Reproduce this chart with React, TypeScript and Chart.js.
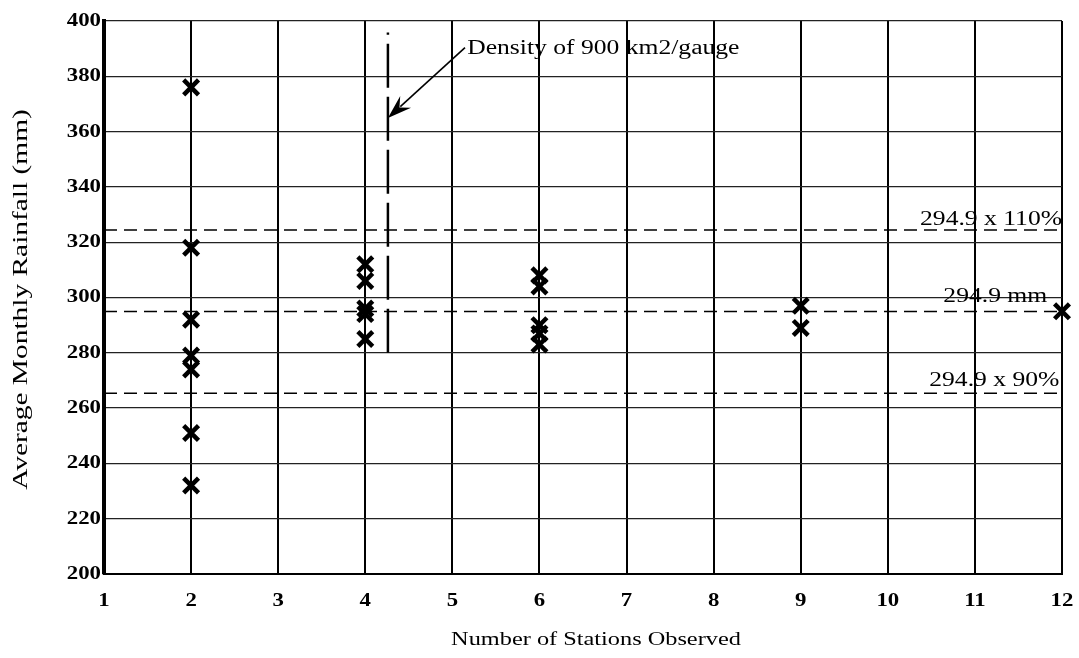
import React, { useEffect, useRef } from 'react';
import { Chart, registerables } from 'chart.js';

Chart.register(...registerables);

// ---- Data ----
const xTickLabels = ['1', '2', '3', '4', '5', '6', '7', '8', '9', '10', '11', '12'];
const yTickLabels = ['200', '220', '240', '260', '280', '300', '320', '340', '360', '380', '400'];

const stationsA = 2;
const rainfallA = [376, 318, 292, 279, 274, 251, 232];
const stationsB = 4;
const rainfallB = [312, 306, 296, 294, 285];
const stationsC = 6;
const rainfallC = [308, 304, 290, 287, 283];
const stationsD = 9;
const rainfallD = [297, 289];
const stationsE = 12;
const rainfallE = [295];

const referenceLevels = [324.4, 294.9, 265.4];
const referenceLabels = ['294.9 x 110%', '294.9 mm', '294.9 x 90%'];

const densityStations = 4.26;
const densityRange = [280, 395.8];
const densityLabel = 'Density of 900 km2/gauge';

const xTitle = 'Number of Stations Observed';
const yTitle = 'Average Monthly Rainfall (mm)';

// ---- Annotation placement (data coordinates) ----
const refLabelAnchors = [
  { x: 12, y: 328.2 },
  { x: 11.83, y: 300.3 },
  { x: 11.97, y: 269.8 },
];
const densityTextAnchor = { x: 5.17, y: 389.8 };
const arrowStart = { x: 5.145, y: 390.4 };
const arrowTip = { x: densityStations, y: 364.9 };

const FONT = '"Liberation Serif", "Times New Roman", serif';
const STRETCH = 1.28;

function drawText(
  ctx: CanvasRenderingContext2D,
  text: string,
  x: number,
  y: number,
  size: number,
  align: CanvasTextAlign,
  bold = false,
  rotate = false,
  stretch = STRETCH
) {
  ctx.save();
  ctx.translate(x, y);
  if (rotate) ctx.rotate(-Math.PI / 2);
  ctx.scale(stretch, 1);
  ctx.font = `${bold ? 'bold ' : ''}${size}px ${FONT}`;
  ctx.textAlign = align;
  ctx.textBaseline = 'middle';
  ctx.fillStyle = '#000';
  ctx.fillText(text, 0, 0);
  ctx.restore();
}

const annotationPlugin = {
  id: 'rainfallAnnotations',
  afterDraw(chart: any) {
    const { ctx, scales, chartArea } = chart;
    const xs = scales.x;
    const ys = scales.y;

    // tick labels
    xTickLabels.forEach((l) => {
      drawText(ctx, l, xs.getPixelForValue(Number(l)), chartArea.bottom + 27, 19, 'center', true, false, 1.2);
    });
    yTickLabels.forEach((l) => {
      drawText(ctx, l, chartArea.left - 3, ys.getPixelForValue(Number(l)), 19, 'right', true, false, 1.2);
    });

    // axis titles
    drawText(ctx, xTitle, (chartArea.left + chartArea.right) / 2 + 13, chartArea.bottom + 66, 19, 'center');
    drawText(ctx, yTitle, 21, (chartArea.top + chartArea.bottom) / 2 + 2, 21, 'center', false, true, 1.4);

    // reference line labels
    referenceLabels.forEach((l, i) => {
      const a = refLabelAnchors[i];
      drawText(ctx, l, xs.getPixelForValue(a.x), ys.getPixelForValue(a.y), 20, 'right');
    });

    // density label + arrow
    drawText(
      ctx,
      densityLabel,
      xs.getPixelForValue(densityTextAnchor.x),
      ys.getPixelForValue(densityTextAnchor.y),
      20,
      'left'
    );
    const sx = xs.getPixelForValue(arrowStart.x);
    const sy = ys.getPixelForValue(arrowStart.y);
    const tx = xs.getPixelForValue(arrowTip.x);
    const ty = ys.getPixelForValue(arrowTip.y);
    const dx = tx - sx;
    const dy = ty - sy;
    const len = Math.hypot(dx, dy);
    const ux = dx / len;
    const uy = dy / len;
    const headLen = 24;
    const headHalf = 8;
    ctx.save();
    ctx.strokeStyle = '#000';
    ctx.fillStyle = '#000';
    ctx.lineWidth = 1.6;
    ctx.beginPath();
    ctx.moveTo(sx, sy);
    ctx.lineTo(tx - ux * headLen * 0.7, ty - uy * headLen * 0.7);
    ctx.stroke();
    const bx = tx - ux * headLen;
    const by = ty - uy * headLen;
    ctx.beginPath();
    ctx.moveTo(tx, ty);
    ctx.lineTo(bx - uy * headHalf, by + ux * headHalf);
    ctx.lineTo(tx - ux * headLen * 0.65, ty - uy * headLen * 0.65);
    ctx.lineTo(bx + uy * headHalf, by - ux * headHalf);
    ctx.closePath();
    ctx.fill();
    ctx.restore();
  },
};

export default function App() {
  const ref = useRef<HTMLCanvasElement>(null);

  useEffect(() => {
    document.body.style.margin = '0';
    const canvas = ref.current;
    if (!canvas) return;

    const groups: [number, number[]][] = [
      [stationsA, rainfallA],
      [stationsB, rainfallB],
      [stationsC, rainfallC],
      [stationsD, rainfallD],
      [stationsE, rainfallE],
    ];
    const points = groups.flatMap(([s, vals]) => vals.map((v) => ({ x: s, y: v })));

    const refDatasets = referenceLevels.map((lvl) => ({
      type: 'scatter' as const,
      data: [
        { x: 1, y: lvl },
        { x: 12, y: lvl },
      ],
      showLine: true,
      borderColor: '#000',
      borderWidth: 1.5,
      borderDash: [13, 7],
      pointRadius: 0,
    }));

    const chart = new Chart(canvas, {
      type: 'scatter',
      data: {
        datasets: [
          {
            data: points,
            clip: false,
            pointStyle: 'crossRot',
            pointRadius: 10.5,
            pointBorderWidth: 4.5,
            borderColor: '#000',
            backgroundColor: '#000',
            pointBorderColor: '#000',
          } as any,
          ...refDatasets,
          {
            data: densityRange.map((y) => ({ x: densityStations, y })),
            showLine: true,
            borderColor: '#000',
            borderWidth: 2.5,
            borderDash: [44, 9],
            pointRadius: 0,
          },
        ],
      },
      options: {
        animation: false,
        responsive: false,
        maintainAspectRatio: false,
        layout: { padding: { left: 0, right: 17, top: 21, bottom: 0 } },
        plugins: {
          legend: { display: false },
          tooltip: { enabled: false },
          title: { display: false },
        },
        scales: {
          x: {
            type: 'linear',
            min: 1,
            max: 12,
            ticks: { stepSize: 1, display: false },
            grid: { color: '#000', lineWidth: 2, drawTicks: false },
            border: { color: '#000', width: 2 },
            afterFit: (s: any) => {
              s.height = 84;
            },
          },
          y: {
            type: 'linear',
            min: 200,
            max: 400,
            ticks: { stepSize: 20, display: false },
            grid: { color: '#222', lineWidth: 1.3, drawTicks: false },
            border: { color: '#000', width: 4 },
            afterFit: (s: any) => {
              s.width = 104;
            },
          },
        },
      },
      plugins: [annotationPlugin],
    });

    return () => chart.destroy();
  }, []);

  return (
    <div style={{ width: 1079, height: 658, background: '#fff' }}>
      <canvas ref={ref} width={1079} height={658} style={{ display: 'block' }} />
    </div>
  );
}
